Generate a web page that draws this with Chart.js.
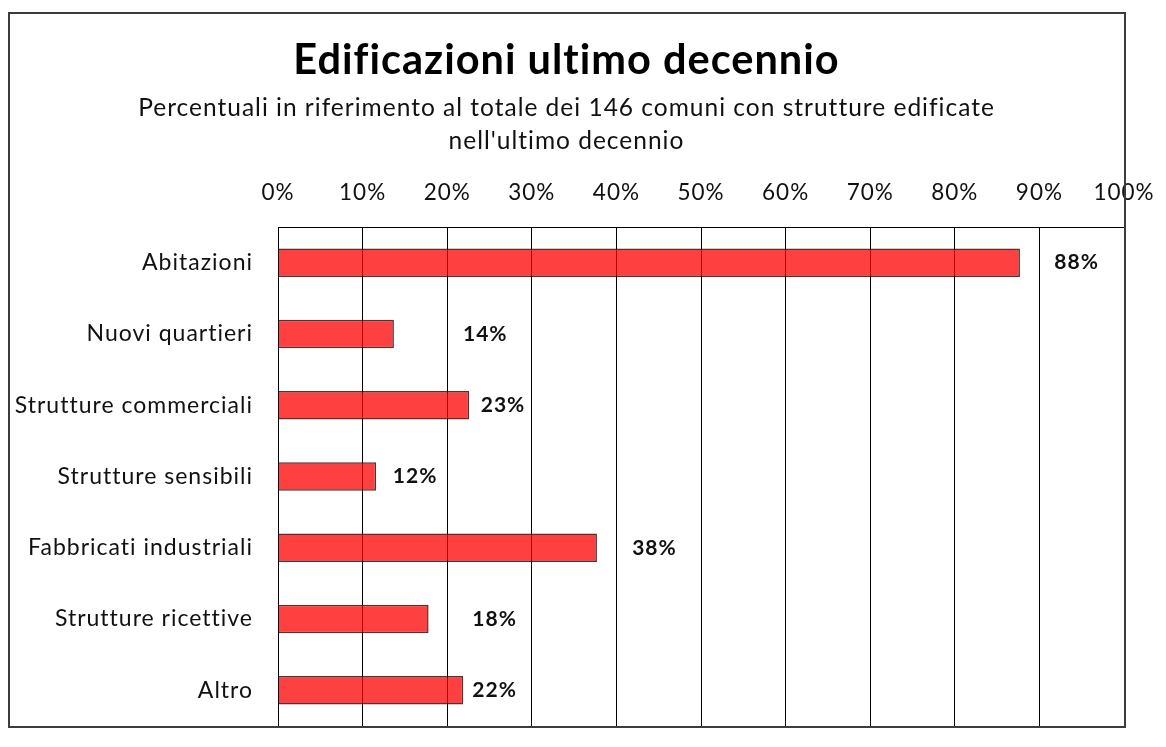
<!DOCTYPE html>
<html><head><meta charset="utf-8">
<script src="https://cdn.jsdelivr.net/npm/chart.js@4/dist/chart.umd.min.js"></script>
<style>html,body{margin:0;padding:0;background:#fff;}canvas{display:block;}</style>
</head><body>
<canvas id="c" width="1166" height="747"></canvas>
<script>
const categories = ['Abitazioni','Nuovi quartieri','Strutture commerciali','Strutture sensibili','Fabbricati industriali','Strutture ricettive','Altro'];
const values = [87.7, 13.7, 22.6, 11.6, 37.7, 17.8, 21.9];
const valueLabels = ['88%','14%','23%','12%','38%','18%','22%'];
const labelPositions = [94.4, 24.5, 26.6, 16.2, 44.5, 25.6, 25.6];
const tickValues = [0,10,20,30,40,50,60,70,80,90,100];
const titleText = 'Edificazioni ultimo decennio';
const subtitleLines = ['Percentuali in riferimento al totale dei 146 comuni con strutture edificate', "nell'ultimo decennio"];

const FONT = 'Lato';

const spacingPlugin = {
  id: 'spacing',
  afterInit(chart) { chart.ctx.letterSpacing = '1px'; },
  beforeUpdate(chart) { chart.ctx.letterSpacing = '1px'; }
};

const framePlugin = {
  id: 'frame',
  beforeDraw(chart) {
    const ctx = chart.ctx;
    ctx.letterSpacing = '1px';
    ctx.save();
    ctx.fillStyle = '#fff';
    ctx.fillRect(0, 0, chart.width, chart.height);
    ctx.restore();
  },
  afterDraw(chart) {
    const ctx = chart.ctx;
    const a = chart.chartArea;
    ctx.save();
    ctx.strokeStyle = '#000';
    ctx.lineWidth = 1;
    ctx.strokeRect(Math.round(a.left) + 0.5, Math.round(a.top) + 0.5, Math.round(a.right - a.left), Math.round(a.bottom - a.top));
    ctx.strokeStyle = '#3c3c3c';
    ctx.lineWidth = 2;
    ctx.strokeRect(9, 13, Math.round(a.right) + 1 - 9, Math.round(a.bottom) + 1 - 13);
    ctx.restore();
  }
};

const labelPlugin = {
  id: 'valueLabels',
  afterDatasetsDraw(chart) {
    const ctx = chart.ctx;
    const meta = chart.getDatasetMeta(0);
    const xs = chart.scales.x;
    ctx.save();
    ctx.font = 'bold 21px ' + FONT;
    ctx.fillStyle = '#111';
    ctx.textAlign = 'center';
    ctx.textBaseline = 'middle';
    meta.data.forEach((bar, i) => {
      ctx.fillText(valueLabels[i], xs.getPixelForValue(labelPositions[i]), bar.y);
    });
    ctx.restore();
  }
};

new Chart(document.getElementById('c'), {
  type: 'bar',
  data: {
    labels: categories,
    datasets: [{
      data: values,
      backgroundColor: 'rgba(255,0,0,0.75)',
      borderColor: 'rgba(60,10,10,0.85)',
      borderWidth: 1.5,
      categoryPercentage: 1,
      barPercentage: 0.4
    }]
  },
  options: {
    indexAxis: 'y',
    responsive: false,
    animation: false,
    devicePixelRatio: 1,
    layout: { padding: { left: 9, right: 42, top: 13, bottom: 21 } },
    plugins: {
      legend: { display: false },
      tooltip: { enabled: false },
      title: {
        display: true,
        text: titleText,
        color: '#000',
        font: { family: FONT, size: 41.5, weight: 'bold', lineHeight: 1.2 },
        padding: { top: 23, bottom: 0 }
      },
      subtitle: {
        display: true,
        text: subtitleLines,
        color: '#111',
        font: { family: FONT, size: 24.5, lineHeight: 1.347 },
        padding: { top: 6, bottom: 21.7 }
      }
    },
    scales: {
      x: {
        position: 'top',
        min: 0,
        max: 100,
        afterBuildTicks(scale) { scale.ticks = tickValues.map(v => ({ value: v })); },
        afterFit(scale) { scale.height = 47.5; scale.paddingLeft = 0; scale.paddingRight = 0; },
        ticks: {
          callback: v => v + '%',
          color: '#111',
          font: { family: FONT, size: 22.5 },
          padding: 20.5,
          maxRotation: 0
        },
        grid: { color: '#000', lineWidth: 1, drawTicks: false },
        border: { display: true, color: '#000' }
      },
      y: {
        afterFit(scale) { scale.width = 269; scale.paddingTop = 0; scale.paddingBottom = 0; },
        ticks: {
          color: '#111',
          font: { family: FONT, size: 23 },
          padding: 25
        },
        grid: { display: false, drawTicks: false },
        border: { display: true, color: '#000' }
      }
    }
  },
  plugins: [spacingPlugin, framePlugin, labelPlugin]
});
</script>
</body></html>
